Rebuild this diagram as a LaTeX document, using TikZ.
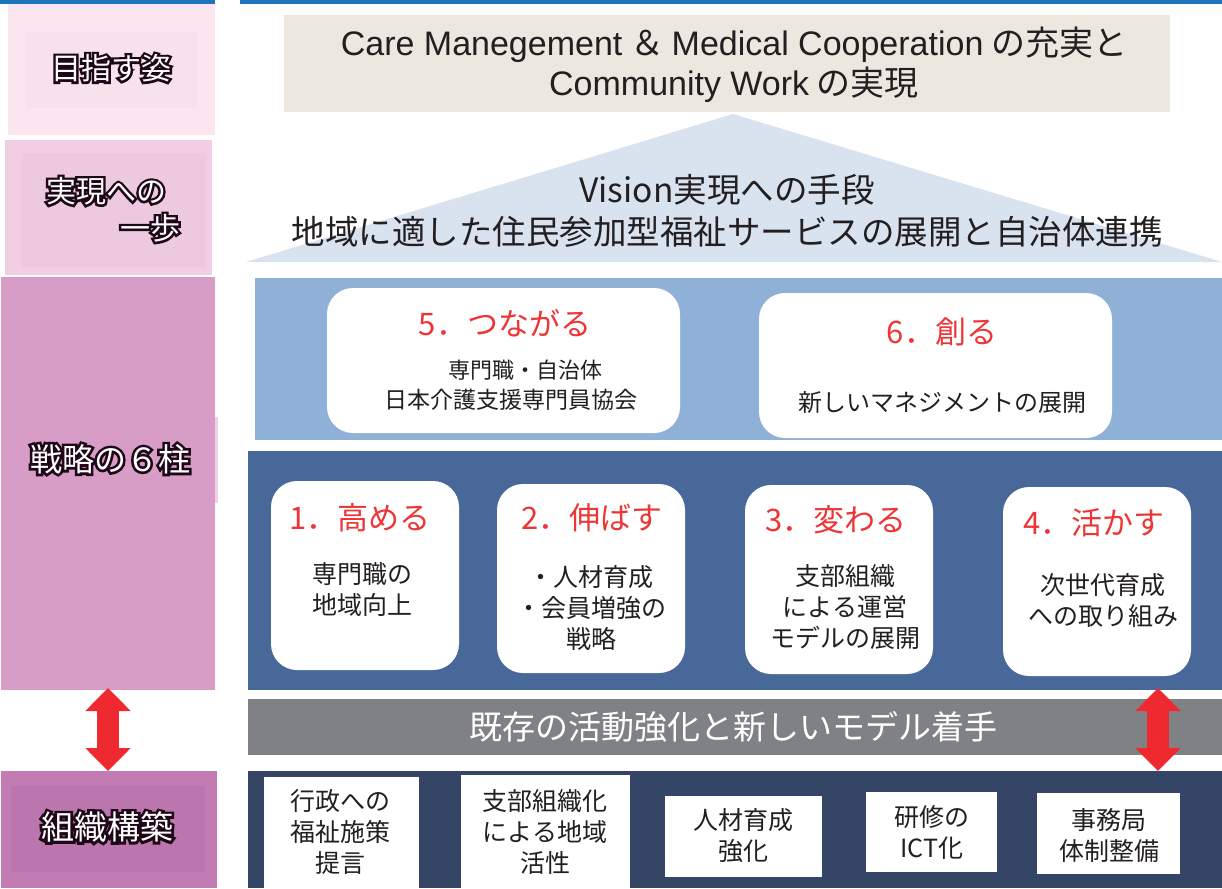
\documentclass[tikz,border=0pt]{standalone}
\usepackage{fontspec}
\setmainfont{Noto Sans CJK JP}
\newfontfamily\lat{Liberation Sans}
\newfontfamily\glowfnt[FakeBold=16]{Noto Sans CJK JP}
\usetikzlibrary{arrows.meta}
\definecolor{topblue}{HTML}{1E74BC}
\definecolor{pkA}{HTML}{FBE5EE}
\definecolor{pkAi}{HTML}{F7E1EB}
\definecolor{pkB}{HTML}{F1CEE3}
\definecolor{pkBi}{HTML}{ECC9DF}
\definecolor{pkC}{HTML}{D89DC6}
\definecolor{pkD}{HTML}{C27CB3}
\definecolor{pkDi}{HTML}{BC76AE}
\definecolor{beige}{HTML}{ECE8DF}
\definecolor{tri}{HTML}{D9E3F0}
\definecolor{lband}{HTML}{8FB0D7}
\definecolor{dband}{HTML}{486899}
\definecolor{gband}{HTML}{808185}
\definecolor{bband}{HTML}{354566}
\definecolor{titred}{HTML}{EE3535}
\definecolor{arrred}{HTML}{EE2A30}
\definecolor{txtdark}{HTML}{231F20}
\definecolor{glowc}{HTML}{1E0818}
\newcommand\glowtext[1]{\rlap{\glowfnt\textcolor{glowc}{#1}}\textcolor{white}{#1}}
\tikzset{
  rect/.style={inner sep=0pt, outer sep=0pt, anchor=north west},
  rbox/.style={rect, fill=white, rounded corners=26pt, minimum width=188pt, minimum height=189pt},
  wbox/.style={rect, fill=white},
  ttl/.style={text=titred, font=\fontsize{31}{36}\selectfont, inner sep=0pt},
  subt/.style={text=txtdark, font=\fontsize{25}{31}\selectfont, align=center, inner sep=0pt},
  subs/.style={text=txtdark, font=\fontsize{22}{30}\selectfont, align=center, inner sep=0pt},
  lbl/.style={font=\fontsize{30}{36}\selectfont, inner sep=0pt},
  big/.style={text=txtdark, font=\fontsize{33.5}{42}\selectfont, align=center, inner sep=0pt},
  redarrow/.style={draw=arrred, line width=22pt, {Triangle[width=44pt,length=23pt]}-{Triangle[width=44pt,length=23pt]}}
}
\begin{document}
\begin{tikzpicture}[x=1pt,y=-1pt]
\useasboundingbox (0,0) rectangle (1222,888);
\fill[white] (0,0) rectangle (1222,888);
% top line
\fill[topblue] (0,0) rectangle (215,4);
\fill[topblue] (240,0) rectangle (1222,4);
% left column
\node[rect, fill=pkA, minimum width=207pt, minimum height=131pt] (L1) at (8,4) {};
\node[rect, fill=pkAi, minimum width=171pt, minimum height=76pt] (L1i) at (26,32) {};
\node[lbl] (L1t) at (111,68) {\glowtext{目指す姿}};
\node[rect, fill=pkB, minimum width=207pt, minimum height=135pt] (L2) at (5,140) {};
\node[rect, fill=pkBi, minimum width=184pt, minimum height=114pt] (L2i) at (22,153) {};
\node[lbl] (L2t) at (106,191) {\glowtext{実現への}};
\node[lbl] (L2u) at (150,228) {\glowtext{一歩}};
\node[rect, fill=pkC, minimum width=214pt, minimum height=413pt] (L3) at (1,277) {};
\node[rect, fill=pkC, fill opacity=0.45, minimum width=208pt, minimum height=86pt] (L3i) at (10,417) {};
\node[lbl, font=\fontsize{32}{36}\selectfont] (L3t) at (110,459) {\glowtext{戦略の６柱}};
\node[rect, fill=pkD, minimum width=216pt, minimum height=117pt] (L4) at (1,771) {};
\node[rect, fill=pkDi, minimum width=194pt, minimum height=86pt] (L4i) at (11,786) {};
\node[lbl, font=\fontsize{33}{36}\selectfont] (L4t) at (107,827) {\glowtext{組織構築}};
% top goal
\node[rect, fill=beige, minimum width=886pt, minimum height=97pt] (goal) at (284,15) {};
\node[big, font=\fontsize{34}{40}\selectfont] (goalt) at (734,65) {{\lat Care Manegement} ＆ {\lat Medical Cooperation} の充実と\\{\lat Community Work} の実現};
% triangle
\fill[tri] (246,262) -- (733,114) -- (1222,262) -- cycle;
\node[big] (vis) at (727,211) {Vision実現への手段\\地域に適した住民参加型福祉サービスの展開と自治体連携};
% light band
\node[rect, fill=lband, minimum width=967pt, minimum height=162pt] (LB) at (255,278) {};
\node[rbox, minimum width=353pt, minimum height=145pt] (B5) at (327,288) {};
\node[ttl] (B5t) at (505,323) {5．つながる};
\node[subs] (B5a) at (525,370) {専門職・自治体};
\node[subs, font=\fontsize{23}{30}\selectfont] (B5b) at (511,400) {日本介護支援専門員協会};
\node[rbox, minimum width=353pt, minimum height=145pt] (B6) at (759,293) {};
\node[ttl] (B6t) at (942,332) {6．創る};
\node[subs, font=\fontsize{24}{30}\selectfont] (B6a) at (942,402) {新しいマネジメントの展開};
% dark band
\node[rect, fill=dband, minimum width=974pt, minimum height=239pt] (DB) at (248,451) {};
\node[rbox] (B1) at (271,481) {};
\node[ttl] (B1t) at (360,518) {1．高める};
\node[subt] (B1a) at (362,590) {専門職の\\地域向上};
\node[rbox] (B2) at (497,484) {};
\node[ttl] (B2t) at (592,518) {2．伸ばす};
\node[subt] (B2a) at (591,608) {・人材育成\\・会員増強の\\戦略};
\node[rbox] (B3) at (745,485) {};
\node[ttl] (B3t) at (836,520) {3．変わる};
\node[subt] (B3a) at (845,607) {支部組織\\による運営\\モデルの展開};
\node[rbox] (B4) at (1003,487) {};
\node[ttl] (B4t) at (1094,523) {4．活かす};
\node[subt] (B4a) at (1103,601) {次世代育成\\への取り組み};
% gray bar
\node[rect, fill=gband, minimum width=974pt, minimum height=56pt] (GB) at (248,699) {};
\node[text=white, font=\fontsize{33}{36}\selectfont, inner sep=0pt] (GBt) at (733,727) {既存の活動強化と新しいモデル着手};
% bottom band
\node[rect, fill=bband, minimum width=974pt, minimum height=117pt] (BB) at (248,771) {};
\node[wbox, minimum width=155pt, minimum height=111pt] (O1) at (264,777) {};
\node[subt] (O1t) at (340,832) {行政への\\福祉施策\\提言};
\node[wbox, minimum width=169pt, minimum height=113pt] (O2) at (461,775) {};
\node[subt] (O2t) at (545,832) {支部組織化\\による地域\\活性};
\node[wbox, minimum width=157pt, minimum height=81pt] (O3) at (665,796) {};
\node[subt] (O3t) at (743,836) {人材育成\\強化};
\node[wbox, minimum width=131pt, minimum height=80pt] (O4) at (866,792) {};
\node[subt] (O4t) at (932,832) {研修の\\ICT化};
\node[wbox, minimum width=143pt, minimum height=81pt] (O5) at (1037,793) {};
\node[subt] (O5t) at (1109,835) {事務局\\体制整備};
% arrows
\draw[redarrow] ([yshift=2pt]L3.south) -- (L3.south |- L4.north);
\coordinate (ra) at (1158,700);
\draw[redarrow] ([yshift=2pt]ra |- DB.south) -- (ra |- BB.north);
\end{tikzpicture}
\end{document}
